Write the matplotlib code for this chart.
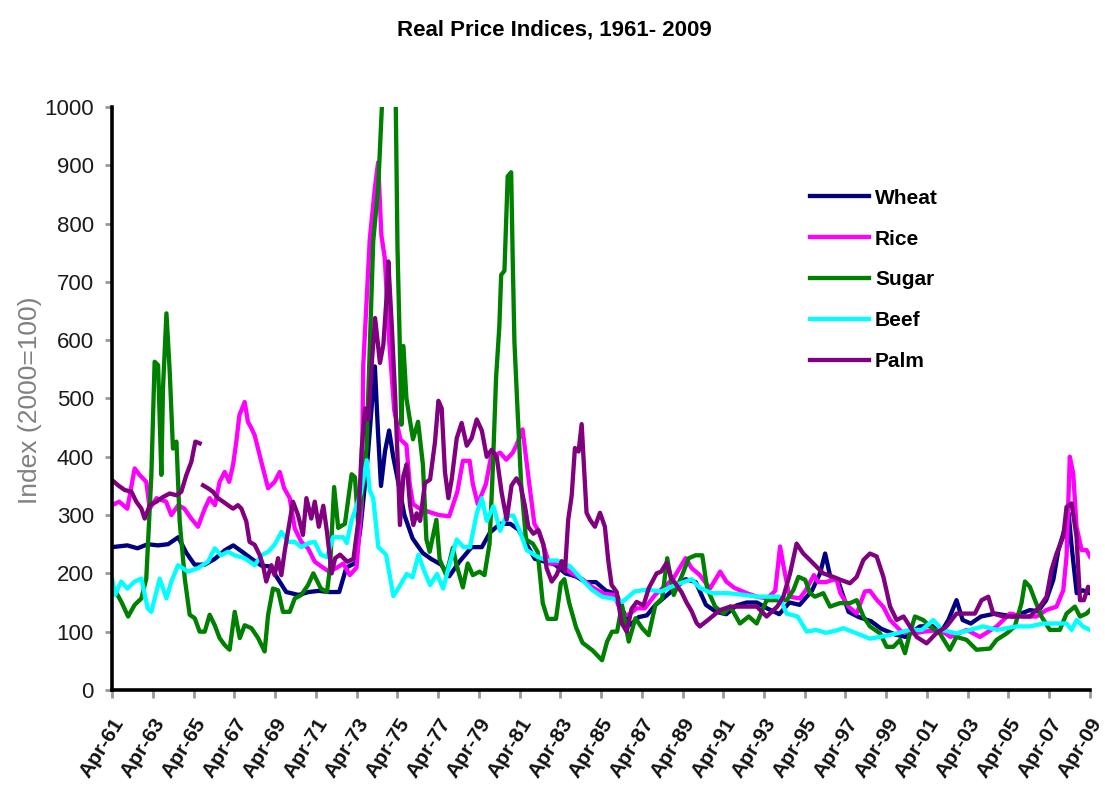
import numpy as np
import matplotlib
matplotlib.use("Agg")
import matplotlib.pyplot as plt

plt.rcParams['font.family'] = ['Liberation Sans', 'DejaVu Sans']

# (year, index) pairs, Apr-61 = 1961.25
wheat = [(1961.25, 245), (1962.0, 248), (1962.5, 243), (1963.0, 250), (1963.5, 248), (1964.0, 250),
         (1964.5, 262), (1964.9, 235), (1965.3, 215), (1965.8, 215), (1966.3, 225), (1966.8, 240),
         (1967.2, 248), (1967.6, 238), (1968.1, 225), (1968.6, 213), (1969.0, 212), (1969.4, 190),
         (1969.8, 168), (1970.4, 163), (1970.9, 168), (1971.4, 170), (1971.9, 168), (1972.4, 168),
         (1972.75, 210), (1973.2, 218), (1973.45, 280), (1973.8, 400), (1974.15, 555), (1974.3, 445),
         (1974.45, 350), (1974.65, 410), (1974.85, 445), (1975.05, 400), (1975.25, 365), (1975.6, 300),
         (1976.0, 260), (1976.5, 235), (1976.9, 225), (1977.4, 215), (1977.8, 195), (1978.3, 220),
         (1978.9, 245), (1979.4, 245), (1979.8, 270), (1980.3, 285), (1980.8, 285), (1981.2, 275),
         (1981.6, 250), (1982.0, 225), (1982.5, 220), (1983.0, 215), (1983.5, 200), (1984.0, 195),
         (1984.5, 185), (1985.0, 185), (1985.5, 170), (1986.0, 165), (1986.4, 130), (1986.7, 112),
         (1987.1, 125), (1987.5, 128), (1987.9, 145), (1988.4, 160), (1988.9, 175), (1989.4, 190),
         (1989.9, 185), (1990.4, 146), (1990.9, 134), (1991.4, 130), (1991.9, 145), (1992.4, 150),
         (1992.9, 150), (1993.4, 140), (1994.0, 130), (1994.5, 150), (1995.0, 146), (1995.6, 170),
         (1996.0, 200), (1996.25, 234), (1996.5, 195), (1996.9, 186), (1997.4, 134), (1997.9, 125),
         (1998.5, 118), (1999.0, 105), (1999.7, 95), (2000.2, 91), (2000.9, 109), (2001.5, 110),
         (2001.9, 97), (2002.3, 120), (2002.7, 154), (2003.0, 120), (2003.4, 114), (2003.9, 126),
         (2004.6, 131), (2005.5, 126), (2006.3, 137), (2006.7, 135), (2007.1, 154), (2007.45, 189),
         (2007.7, 240), (2007.95, 269), (2008.2, 303), (2008.35, 246), (2008.6, 166), (2008.9, 171),
         (2009.25, 166)]

rice = [(1961.25, 317), (1961.6, 323), (1962.0, 311), (1962.36, 380), (1962.6, 369), (1962.93, 357),
        (1963.1, 311), (1963.43, 329), (1963.9, 323), (1964.16, 300), (1964.5, 317), (1964.8, 311),
        (1965.14, 294), (1965.47, 280), (1965.8, 311), (1966.04, 329), (1966.3, 317), (1966.53, 357),
        (1966.78, 374), (1967.0, 357), (1967.19, 386), (1967.35, 426), (1967.5, 471), (1967.76, 494),
        (1967.92, 460), (1968.09, 449), (1968.25, 437), (1968.58, 391), (1968.91, 346), (1969.23, 357),
        (1969.48, 374), (1969.7, 346), (1969.97, 329), (1970.22, 277), (1970.54, 254), (1970.87, 243),
        (1971.2, 220), (1971.6, 210), (1971.9, 203), (1972.3, 210), (1972.6, 217), (1972.92, 197),
        (1973.25, 210), (1973.5, 319), (1973.58, 556), (1973.66, 610), (1973.9, 773), (1974.15, 861),
        (1974.31, 905), (1974.47, 780), (1974.64, 740), (1974.85, 600), (1975.1, 480), (1975.4, 430),
        (1975.7, 420), (1975.86, 353), (1976.02, 319), (1976.3, 312), (1976.84, 305), (1977.3, 300),
        (1977.8, 298), (1978.2, 340), (1978.47, 393), (1978.8, 393), (1978.96, 353), (1979.2, 319),
        (1979.6, 353), (1979.85, 400), (1980.3, 407), (1980.6, 395), (1980.92, 407), (1981.1, 420),
        (1981.4, 447), (1981.73, 353), (1981.98, 285), (1982.22, 271), (1982.7, 217), (1983.2, 217),
        (1983.69, 203), (1984.34, 190), (1984.83, 176), (1985.4, 165), (1985.9, 163), (1986.3, 129),
        (1986.6, 129), (1987.0, 140), (1987.4, 140), (1987.9, 163), (1988.25, 174), (1988.8, 191),
        (1989.4, 226), (1989.7, 209), (1990.1, 197), (1990.6, 174), (1991.1, 203), (1991.4, 186),
        (1991.8, 175), (1992.4, 166), (1992.9, 160), (1993.4, 157), (1993.8, 170), (1994.04, 246),
        (1994.2, 214), (1994.5, 160), (1995.0, 157), (1995.3, 171), (1995.7, 197), (1995.9, 185),
        (1996.3, 185), (1996.8, 191), (1997.0, 166), (1997.4, 143), (1997.8, 131), (1998.2, 169),
        (1998.45, 170), (1998.8, 154), (1999.1, 143), (1999.44, 120), (2000.0, 100), (2000.6, 97),
        (2001.1, 100), (2001.9, 103), (2002.4, 91), (2003.2, 103), (2003.85, 91), (2004.67, 109),
        (2005.32, 131), (2006.0, 126), (2006.63, 126), (2007.1, 137), (2007.61, 143), (2007.94, 171),
        (2008.1, 229), (2008.26, 400), (2008.43, 371), (2008.59, 280), (2008.84, 240), (2009.08, 240),
        (2009.25, 229)]

sugar = [(1961.25, 180), (1961.71, 151), (1962.04, 126), (1962.36, 146), (1962.69, 157), (1962.93, 191),
         (1963.18, 369), (1963.34, 563), (1963.51, 557), (1963.67, 369), (1963.75, 517), (1963.92, 646),
         (1964.08, 546), (1964.24, 414), (1964.41, 426), (1964.57, 289), (1964.82, 191), (1965.06, 129),
         (1965.31, 123), (1965.55, 100), (1965.8, 100), (1966.04, 129), (1966.29, 111), (1966.53, 89),
         (1966.78, 77), (1967.02, 69), (1967.27, 134), (1967.52, 89), (1967.76, 111), (1968.09, 106),
         (1968.42, 89), (1968.74, 66), (1968.91, 129), (1969.15, 174), (1969.4, 171), (1969.64, 134),
         (1969.97, 134), (1970.22, 157), (1970.54, 163), (1970.87, 180), (1971.13, 200), (1971.5, 174),
         (1971.8, 168), (1971.95, 210), (1972.15, 348), (1972.35, 278), (1972.68, 285), (1973.01, 370),
         (1973.17, 365), (1973.33, 285), (1973.5, 330), (1973.74, 414), (1974.07, 770), (1974.31, 860),
         (1974.56, 1050), (1974.85, 1400), (1975.16, 1050), (1975.26, 760), (1975.37, 597), (1975.45, 455),
         (1975.55, 590), (1975.7, 500), (1976.02, 430), (1976.27, 460), (1976.51, 386), (1976.68, 258),
         (1976.84, 237), (1977.17, 292), (1977.33, 224), (1977.65, 197), (1977.98, 244), (1978.14, 217),
         (1978.47, 176), (1978.71, 217), (1978.96, 197), (1979.29, 203), (1979.53, 197), (1979.78, 251),
         (1979.94, 380), (1980.1, 536), (1980.26, 624), (1980.35, 712), (1980.51, 719), (1980.67, 881),
         (1980.84, 888), (1980.92, 732), (1981.0, 597), (1981.16, 475), (1981.33, 353), (1981.57, 258),
         (1981.9, 251), (1982.14, 237), (1982.39, 149), (1982.63, 122), (1983.04, 122), (1983.28, 183),
         (1983.45, 190), (1983.69, 149), (1984.02, 108), (1984.34, 81), (1984.83, 68), (1985.3, 51),
         (1985.55, 83), (1985.79, 100), (1986.04, 100), (1986.28, 146), (1986.61, 83), (1986.94, 123),
         (1987.27, 106), (1987.59, 94), (1987.92, 146), (1988.25, 157), (1988.5, 226), (1988.82, 163),
         (1989.23, 197), (1989.56, 226), (1989.89, 231), (1990.22, 231), (1990.46, 174), (1990.85, 143),
         (1991.26, 131), (1991.6, 143), (1992.07, 114), (1992.5, 126), (1992.89, 114), (1993.38, 154),
         (1993.87, 154), (1994.36, 154), (1994.69, 171), (1994.94, 194), (1995.27, 189), (1995.51, 166),
         (1995.75, 160), (1996.16, 166), (1996.49, 143), (1996.98, 149), (1997.47, 149), (1997.8, 154),
         (1998.13, 126), (1998.45, 109), (1998.95, 97), (1999.27, 74), (1999.6, 74), (1999.93, 86),
         (2000.17, 63), (2000.41, 97), (2000.66, 126), (2001.07, 120), (2001.39, 109), (2001.88, 97),
         (2002.37, 69), (2002.7, 91), (2003.19, 86), (2003.68, 69), (2004.34, 71), (2004.67, 86),
         (2005.16, 97), (2005.56, 109), (2005.89, 149), (2006.06, 186), (2006.3, 177), (2006.55, 154),
         (2006.87, 126), (2007.28, 103), (2007.77, 103), (2008.1, 131), (2008.51, 143), (2008.76, 126),
         (2009.08, 131), (2009.25, 137)]

beef = [(1961.25, 191), (1961.4, 163), (1961.7, 186), (1962.0, 174), (1962.36, 186), (1962.69, 191),
        (1963.0, 140), (1963.18, 134), (1963.59, 191), (1963.92, 157), (1964.16, 186), (1964.49, 214),
        (1964.98, 203), (1965.47, 209), (1965.96, 220), (1966.29, 243), (1966.6, 231), (1966.94, 237),
        (1967.27, 231), (1967.76, 226), (1968.25, 214), (1968.58, 231), (1968.91, 237), (1969.23, 249),
        (1969.56, 271), (1969.9, 254), (1970.22, 254), (1970.54, 245), (1970.9, 252), (1971.2, 254),
        (1971.5, 232), (1971.8, 228), (1972.1, 262), (1972.6, 262), (1972.77, 252), (1973.0, 290),
        (1973.45, 336), (1973.75, 394), (1973.9, 342), (1974.07, 329), (1974.32, 245), (1974.7, 232),
        (1975.06, 161), (1975.4, 180), (1975.71, 199), (1976.0, 193), (1976.29, 232), (1976.55, 206),
        (1976.86, 180), (1977.2, 199), (1977.5, 174), (1977.84, 219), (1978.17, 258), (1978.5, 245),
        (1978.82, 245), (1979.15, 303), (1979.4, 329), (1979.64, 290), (1979.97, 315), (1980.3, 273),
        (1980.6, 299), (1980.95, 299), (1981.3, 269), (1981.6, 240), (1982.1, 229), (1982.6, 222),
        (1983.1, 222), (1983.73, 212), (1984.3, 190), (1984.8, 172), (1985.3, 160), (1985.8, 157),
        (1986.3, 151), (1986.9, 169), (1987.5, 172), (1988.2, 169), (1988.9, 180), (1989.7, 190),
        (1990.1, 175), (1990.7, 166), (1991.5, 166), (1992.3, 163), (1992.9, 160), (1993.6, 160),
        (1994.0, 160), (1994.36, 131), (1994.9, 126), (1995.35, 100), (1995.8, 103), (1996.3, 98),
        (1996.8, 102), (1997.15, 106), (1997.8, 97), (1998.45, 88), (1999.1, 92), (1999.76, 97),
        (2000.4, 103), (2001.0, 103), (2001.56, 120), (2002.0, 103), (2002.7, 97), (2003.36, 103),
        (2004.0, 109), (2004.7, 103), (2005.65, 109), (2006.3, 109), (2006.96, 114), (2007.6, 114),
        (2008.1, 114), (2008.35, 103), (2008.6, 120), (2008.9, 109), (2009.25, 103)]

palm = [(1961.25, 360), (1961.55, 351), (1961.87, 343), (1962.2, 340), (1962.44, 323), (1962.69, 311),
        (1962.85, 294), (1963.1, 317), (1963.43, 323), (1963.75, 331), (1964.08, 337), (1964.41, 334),
        (1964.65, 340), (1964.9, 369), (1965.14, 391), (1965.34, 426), (1965.55, 423), (1965.63, np.nan),
        (1965.72, 351), (1965.96, 346), (1966.2, 340), (1966.45, 329), (1966.7, 323), (1966.94, 317),
        (1967.19, 311), (1967.43, 317), (1967.6, 311), (1967.84, 289), (1968.0, 254), (1968.25, 249),
        (1968.5, 231), (1968.66, 214), (1968.82, 186), (1969.07, 214), (1969.23, 197), (1969.4, 226),
        (1969.56, 197), (1969.72, 237), (1969.97, 289), (1970.13, 323), (1970.38, 300), (1970.62, 266),
        (1970.79, 329), (1971.03, 294), (1971.2, 323), (1971.4, 280), (1971.62, 316), (1971.8, 271),
        (1972.03, 200), (1972.2, 226), (1972.44, 232), (1972.8, 220), (1973.1, 225), (1973.34, 290),
        (1973.5, 412), (1973.67, 483), (1973.83, 464), (1974.0, 561), (1974.16, 638), (1974.4, 561),
        (1974.57, 593), (1974.73, 677), (1974.81, 735), (1974.98, 625), (1975.14, 509), (1975.3, 367),
        (1975.38, 283), (1975.55, 367), (1975.71, 387), (1975.88, 316), (1976.04, 283), (1976.2, 303),
        (1976.37, 290), (1976.61, 355), (1976.86, 361), (1977.1, 425), (1977.27, 496), (1977.43, 483),
        (1977.59, 374), (1977.76, 329), (1977.92, 361), (1978.17, 432), (1978.41, 458), (1978.66, 419),
        (1978.9, 432), (1979.15, 464), (1979.4, 445), (1979.64, 400), (1979.88, 412), (1980.13, 400),
        (1980.37, 339), (1980.62, 292), (1980.86, 351), (1981.1, 363), (1981.3, 351), (1981.52, 315),
        (1981.68, 280), (1981.93, 268), (1982.17, 274), (1982.42, 250), (1982.58, 209), (1982.83, 186),
        (1983.08, 198), (1983.32, 221), (1983.48, 203), (1983.64, 292), (1983.81, 333), (1983.97, 415),
        (1984.15, 409), (1984.3, 456), (1984.54, 304), (1984.71, 292), (1984.95, 280), (1985.2, 304),
        (1985.44, 280), (1985.61, 221), (1985.77, 180), (1986.02, 168), (1986.26, 115), (1986.51, 100),
        (1986.75, 139), (1987.0, 151), (1987.33, 145), (1987.6, 175), (1987.98, 200), (1988.2, 203),
        (1988.47, 218), (1988.7, 192), (1988.96, 180), (1989.2, 168), (1989.45, 150), (1989.7, 135),
        (1989.94, 115), (1990.1, 109), (1990.5, 120), (1991.09, 137), (1991.6, 143), (1992.2, 143),
        (1992.9, 143), (1993.38, 126), (1993.9, 143), (1994.2, 160), (1994.53, 200), (1994.85, 251),
        (1995.18, 234), (1995.5, 223), (1995.84, 211), (1996.16, 200), (1996.65, 194), (1997.0, 189),
        (1997.47, 183), (1997.8, 194), (1998.13, 223), (1998.45, 234), (1998.78, 229), (1999.11, 194),
        (1999.44, 143), (1999.76, 120), (2000.1, 126), (2000.41, 109), (2000.74, 91), (2001.23, 80),
        (2001.7, 97), (2002.21, 109), (2002.7, 131), (2003.2, 131), (2003.6, 131), (2003.93, 154),
        (2004.26, 160), (2004.5, 131), (2005.0, 126), (2005.65, 126), (2006.3, 126), (2006.79, 143),
        (2007.12, 160), (2007.36, 206), (2007.61, 234), (2007.94, 263), (2008.1, 314), (2008.35, 320),
        (2008.59, 263), (2008.76, 154), (2008.95, 154), (2009.16, 177), (2009.25, 171)]

names = ["Wheat", "Rice", "Sugar", "Beef", "Palm"]
colors = ["#000080", "#ff00ff", "#008000", "#00ffff", "#800080"]
tick_years = np.arange(1961.25, 2009.3, 2)
tick_labels = ["Apr-%02d" % ((1961 + 2 * i) % 100) for i in range(len(tick_years))]

fig = plt.figure(figsize=(11.05, 8.05), dpi=100)
ax = fig.add_axes([0.1014, 0.1429, 0.885, 0.7242])

for name, pts, col in zip(names, [wheat, rice, sugar, beef, palm], colors):
    t, v = zip(*pts)
    ax.plot(t, v, color=col, lw=3.1, label=name)

ax.set_xlim(1961.25, 2009.25)
ax.set_ylim(0, 1000)
ax.set_yticks(np.arange(0, 1001, 100))
ax.set_xticks(tick_years)
ax.set_xticklabels(tick_labels, rotation=58, ha='right', va='top', rotation_mode='anchor',
                   fontsize=15, fontweight='bold')
ax.tick_params(axis='y', labelsize=16, colors='#999999', labelcolor='#1a1a1a', length=5, width=2, pad=8)
ax.tick_params(axis='x', colors='#999999', labelcolor='#111111', length=6, width=2, pad=12)

for s in ['top', 'right']:
    ax.spines[s].set_visible(False)
for s in ['left', 'bottom']:
    ax.spines[s].set_linewidth(2.6)
    ax.spines[s].set_color('black')

ax.legend(loc='upper left', bbox_to_anchor=(0.695, 0.892), frameon=False, handlelength=2.8,
          labelspacing=1.05, handletextpad=0.3, prop=dict(weight='bold', size=15))

fig.text(0.502, 0.963, "Real Price Indices, 1961- 2009", ha='center', va='center',
         fontsize=16, fontweight='bold')
fig.text(0.027, 0.503, "Index (2000=100)", rotation=90, ha='center', va='center',
         fontsize=19, color='#808080')

fig.savefig("out.png", dpi=100)
